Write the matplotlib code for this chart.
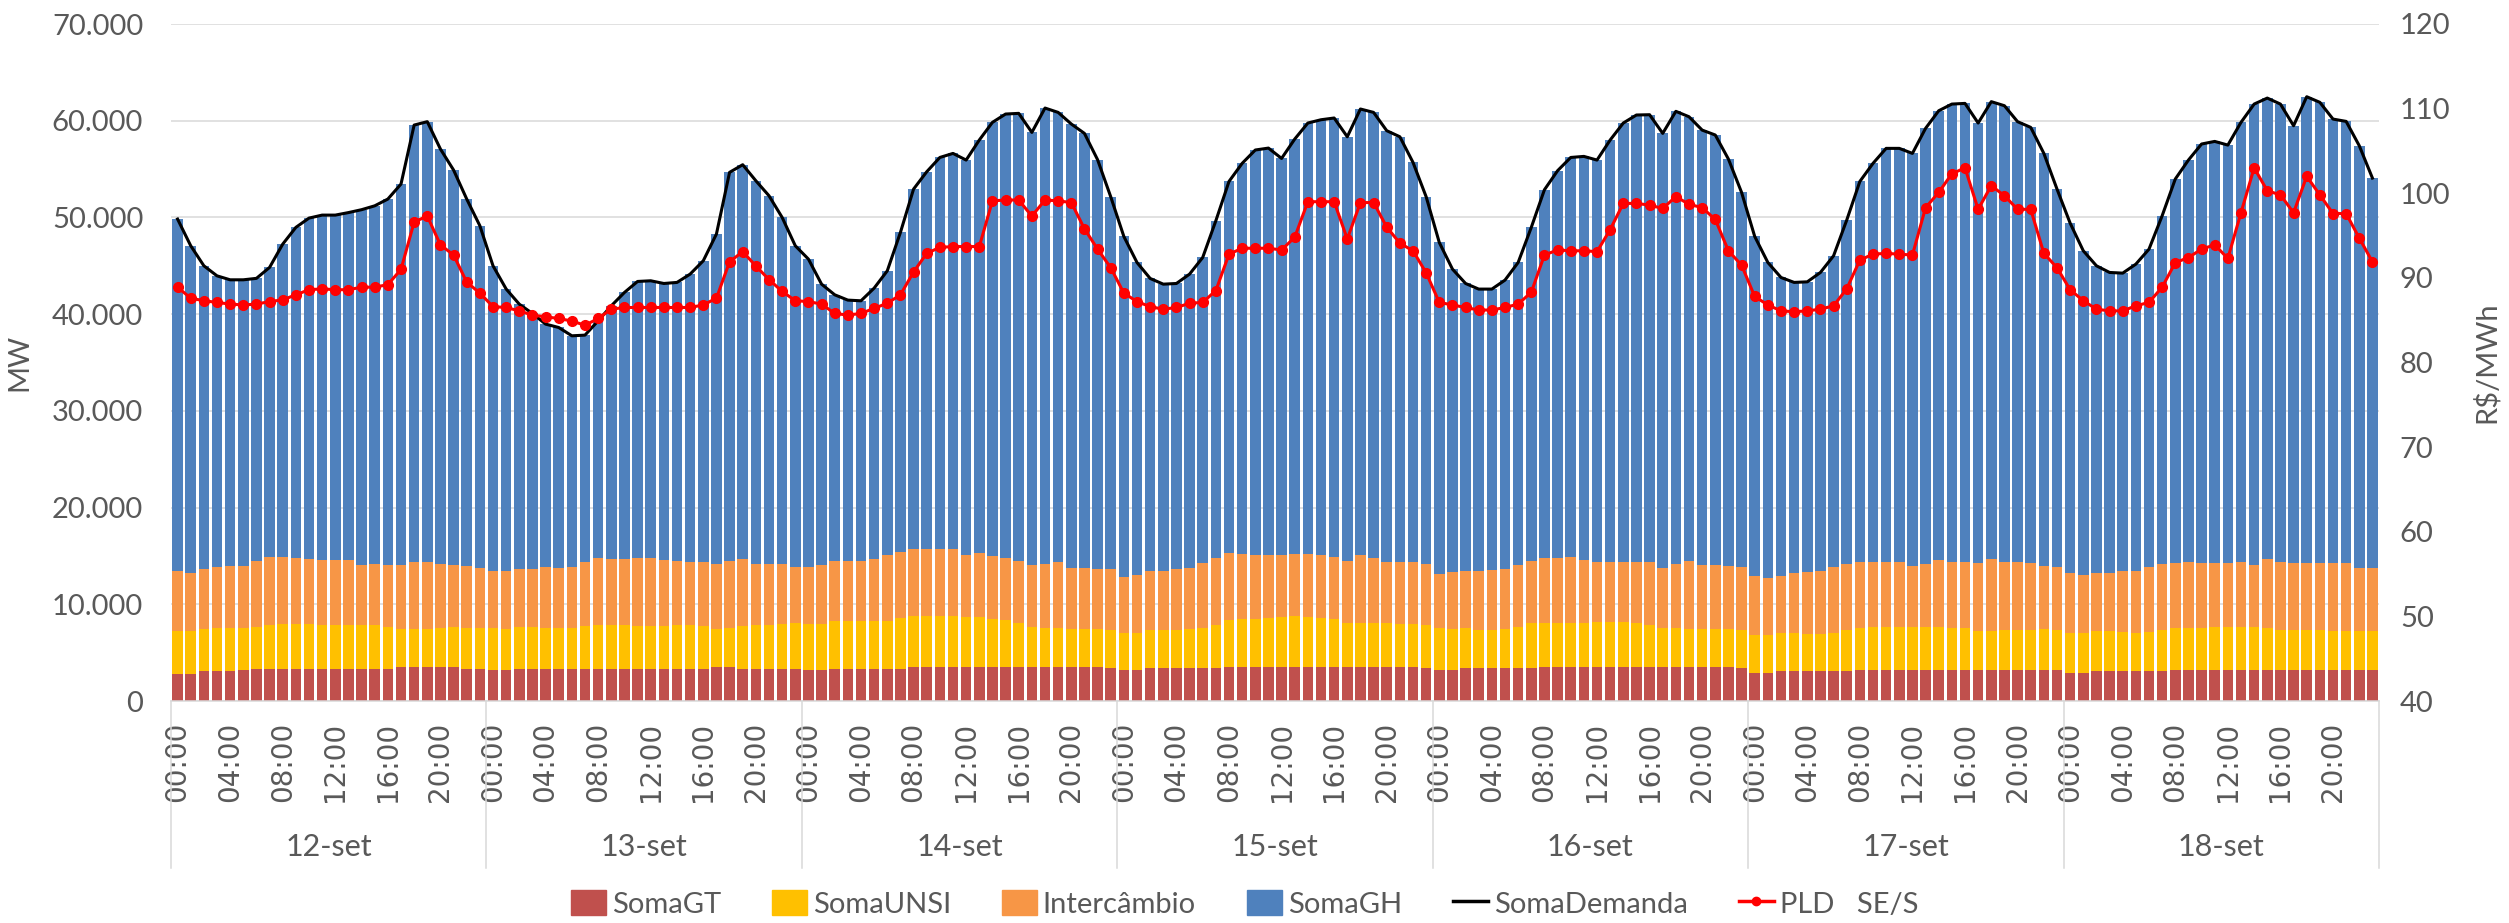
import numpy as np
import matplotlib.pyplot as plt
import matplotlib.transforms as mtransforms
from matplotlib.ticker import FuncFormatter
from matplotlib.lines import Line2D
from matplotlib.patches import Patch

plt.rcParams['font.family'] = ['Lato', 'DejaVu Sans']

# --- dados (MW por hora, 12-set a 18-set) ---
dias = ['12-set', '13-set', '14-set', '15-set', '16-set', '17-set', '18-set']
horas = ['00:00', '04:00', '08:00', '12:00', '16:00', '20:00']

soma_gt = [
    2780, 2780, 3060, 3060, 3130, 3230, 3330, 3330, 3330, 3330, 3330, 3330, 3330, 3330, 3330, 3330, 3330, 3470, 3470, 3470, 3470, 3470, 3330, 3330,
    3160, 3160, 3330, 3330, 3330, 3330, 3330, 3330, 3330, 3330, 3330, 3330, 3330, 3330, 3330, 3330, 3330, 3470, 3470, 3330, 3330, 3330, 3330, 3330,
    3200, 3200, 3330, 3330, 3330, 3330, 3330, 3330, 3500, 3500, 3500, 3500, 3500, 3500, 3500, 3500, 3500, 3500, 3500, 3500, 3500, 3500, 3500, 3370,
    3160, 3160, 3370, 3370, 3370, 3370, 3370, 3370, 3500, 3500, 3500, 3500, 3500, 3500, 3500, 3500, 3500, 3500, 3500, 3500, 3500, 3500, 3500, 3370,
    3160, 3160, 3370, 3370, 3370, 3370, 3370, 3370, 3500, 3500, 3500, 3500, 3500, 3500, 3500, 3500, 3500, 3500, 3500, 3500, 3500, 3500, 3500, 3370,
    2920, 2920, 3100, 3100, 3100, 3100, 3100, 3100, 3200, 3200, 3200, 3200, 3200, 3200, 3200, 3200, 3200, 3200, 3200, 3200, 3200, 3200, 3200, 3200,
    2920, 2920, 3100, 3100, 3100, 3100, 3100, 3100, 3200, 3200, 3200, 3200, 3200, 3200, 3200, 3200, 3200, 3200, 3200, 3200, 3200, 3200, 3200, 3200,
]
soma_unsi = [
    4440, 4440, 4400, 4510, 4440, 4340, 4340, 4550, 4650, 4650, 4650, 4550, 4550, 4550, 4550, 4550, 4340, 3990, 3930, 3990, 4100, 4200, 4240, 4240,
    4410, 4300, 4340, 4340, 4240, 4240, 4240, 4410, 4550, 4550, 4550, 4440, 4440, 4440, 4550, 4550, 4440, 3990, 4100, 4440, 4550, 4550, 4650, 4750,
    4780, 4780, 4990, 4990, 4990, 4990, 4990, 5270, 5300, 5300, 5300, 5300, 5200, 5200, 5000, 4860, 4580, 4170, 4000, 4000, 3900, 3900, 3900, 3960,
    3860, 3860, 3960, 3960, 3960, 4030, 4130, 4470, 4860, 4930, 5030, 5100, 5200, 5300, 5200, 5100, 4930, 4580, 4580, 4580, 4580, 4480, 4480, 4470,
    4340, 4240, 4130, 3960, 3960, 4030, 4300, 4650, 4580, 4580, 4580, 4580, 4690, 4690, 4690, 4580, 4340, 4070, 4000, 3900, 3900, 3900, 3900, 3960,
    3890, 3890, 3920, 3920, 3810, 3810, 3920, 4230, 4370, 4470, 4470, 4470, 4470, 4470, 4470, 4370, 4300, 4020, 4020, 4130, 4130, 4130, 4200, 4130,
    4100, 4100, 4120, 4120, 4020, 3920, 4020, 4230, 4370, 4370, 4370, 4470, 4470, 4470, 4470, 4300, 4130, 4130, 4130, 4130, 4020, 4020, 4020, 4020,
]
intercambio = [
    6200, 5990, 6200, 6290, 6400, 6400, 6810, 7020, 6920, 6810, 6710, 6740, 6740, 6740, 6160, 6260, 6370, 6580, 6940, 6950, 6640, 6370, 6400, 6190,
    5850, 5960, 5990, 5990, 6290, 6190, 6290, 6600, 6910, 6810, 6810, 7020, 7020, 6820, 6640, 6530, 6570, 6680, 6950, 6920, 6330, 6330, 6230, 5780,
    5880, 6060, 6130, 6200, 6200, 6370, 6780, 6780, 6920, 6920, 6920, 6920, 6400, 6570, 6500, 6430, 6440, 6370, 6710, 6910, 6360, 6360, 6260, 6330,
    5780, 6020, 6090, 6150, 6330, 6360, 6740, 6950, 6910, 6740, 6570, 6500, 6400, 6370, 6470, 6500, 6470, 6370, 7020, 6710, 6330, 6360, 6360, 6300,
    5610, 5920, 5980, 6150, 6260, 6260, 6370, 6500, 6710, 6710, 6820, 6540, 6150, 6150, 6150, 6260, 6500, 6190, 6640, 7120, 6640, 6640, 6570, 6530,
    6120, 5920, 5910, 6190, 6410, 6510, 6840, 6810, 6840, 6740, 6740, 6740, 6300, 6470, 6920, 6840, 6910, 7090, 7470, 7080, 7080, 6910, 6570, 6530,
    6190, 6020, 5990, 5990, 6300, 6460, 6740, 6810, 6740, 6840, 6740, 6640, 6640, 6740, 6370, 7190, 7080, 6910, 6980, 6980, 7020, 7020, 6540, 6540,
]
soma_gh = [
    36410, 33860, 31340, 30100, 29580, 29580, 29220, 29930, 32340, 34180, 35240, 35620, 35620, 35880, 36760, 37060, 37860, 39410, 45210, 45490, 42860, 40860, 37930, 35380,
    31580, 29180, 27370, 26410, 25110, 24860, 23900, 23490, 24520, 26170, 27550, 28590, 28660, 28580, 28760, 29730, 31180, 34140, 40140, 40760, 39580, 38030, 35790, 33210,
    31830, 29060, 27550, 26930, 26860, 28000, 29380, 33070, 37210, 39000, 40480, 40900, 40830, 42730, 44830, 45900, 46240, 44750, 47100, 46450, 45900, 44930, 42310, 38480,
    35230, 32300, 30270, 29620, 29510, 30380, 31620, 34870, 38450, 40420, 41870, 42070, 41000, 42930, 44590, 45000, 45380, 43890, 46110, 46070, 44560, 44000, 41350, 38000,
    34300, 31340, 29690, 29110, 29000, 29860, 31300, 34450, 38070, 40040, 41300, 41690, 41590, 43660, 45420, 46250, 46280, 44930, 46830, 45890, 44990, 44480, 42060, 38730,
    35100, 32610, 30860, 30070, 30020, 30890, 32170, 35580, 39310, 41180, 42730, 42730, 42650, 45070, 46440, 47310, 47380, 45450, 47280, 47140, 45490, 45070, 42650, 39070,
    36200, 33510, 31790, 31100, 30820, 31690, 32860, 36030, 39660, 41520, 43280, 43550, 43170, 45420, 47680, 47650, 47310, 45240, 48170, 47590, 45930, 45690, 43650, 40310,
]
soma_demanda = [
    49830, 47070, 45000, 43960, 43550, 43550, 43700, 44830, 47240, 48970, 49930, 50240, 50240, 50500, 50800, 51200, 51900, 53450, 59550, 59900, 57070, 54900, 51900, 49140,
    45000, 42600, 41030, 40070, 38970, 38620, 37760, 37830, 39310, 40860, 42240, 43380, 43450, 43170, 43280, 44140, 45520, 48280, 54660, 55450, 53790, 52240, 50000, 47070,
    45690, 43100, 42000, 41450, 41380, 42690, 44480, 48450, 52930, 54720, 56200, 56620, 55930, 58000, 59830, 60690, 60760, 58790, 61310, 60860, 59660, 58690, 55970, 52140,
    48030, 45340, 43690, 43100, 43170, 44140, 45860, 49660, 53720, 55590, 56970, 57170, 56100, 58100, 59760, 60100, 60280, 58340, 61210, 60860, 58970, 58340, 55690, 52140,
    47410, 44660, 43170, 42590, 42590, 43520, 45340, 48970, 52860, 54830, 56200, 56310, 55930, 58000, 59760, 60590, 60620, 58690, 60970, 60410, 59030, 58520, 56030, 52590,
    48030, 45340, 43790, 43280, 43340, 44310, 46030, 49720, 53720, 55590, 57140, 57140, 56620, 59210, 61030, 61720, 61790, 59760, 61970, 61550, 59900, 59310, 56620, 52930,
    49410, 46550, 45000, 44310, 44240, 45170, 46720, 50170, 53970, 55930, 57590, 57860, 57480, 59830, 61720, 62340, 61720, 59480, 62480, 61900, 60170, 59930, 57410, 54070,
]
# PLD SE/S em R$/MWh
pld_ses = [
    88.9, 87.6, 87.3, 87.1, 86.9, 86.8, 86.9, 87.2, 87.4, 88.0, 88.6, 88.7, 88.6, 88.6, 88.9, 88.9, 89.2, 91.0, 96.6, 97.3, 93.9, 92.7, 89.5, 88.2,
    86.6, 86.5, 86.1, 85.6, 85.4, 85.2, 84.9, 84.4, 85.2, 86.3, 86.5, 86.5, 86.5, 86.5, 86.5, 86.5, 86.8, 87.6, 91.9, 93.1, 91.4, 89.8, 88.4, 87.3,
    87.2, 86.9, 85.8, 85.6, 85.8, 86.4, 87.0, 88.0, 90.7, 92.9, 93.6, 93.7, 93.7, 93.7, 99.1, 99.2, 99.2, 97.3, 99.2, 99.1, 98.9, 95.8, 93.4, 91.2,
    88.2, 87.2, 86.6, 86.3, 86.5, 87.0, 87.1, 88.5, 92.8, 93.5, 93.5, 93.5, 93.3, 94.8, 99.0, 99.0, 99.0, 94.6, 98.9, 98.9, 96.0, 94.1, 93.2, 90.6,
    87.1, 86.8, 86.5, 86.2, 86.2, 86.5, 86.9, 88.3, 92.7, 93.3, 93.2, 93.2, 93.1, 95.7, 98.8, 98.8, 98.6, 98.2, 99.6, 98.7, 98.3, 96.9, 93.2, 91.5,
    87.8, 86.8, 86.1, 86.0, 86.1, 86.3, 86.7, 88.7, 92.1, 92.8, 92.9, 92.8, 92.7, 98.3, 100.1, 102.3, 103.0, 98.1, 100.9, 99.7, 98.1, 98.1, 92.9, 91.2,
    88.6, 87.3, 86.3, 86.1, 86.1, 86.7, 87.1, 88.9, 91.8, 92.4, 93.4, 93.9, 92.3, 97.7, 103.0, 100.3, 99.8, 97.7, 102.0, 99.8, 97.6, 97.6, 94.7, 91.9,
]

cor_gt = '#C0504D'
cor_unsi = '#FFC000'
cor_inter = '#F79646'
cor_gh = '#4F81BD'
cor_txt = '#595959'
cor_grade = '#D9D9D9'

n = len(soma_gt)
x = np.arange(n)

fig = plt.figure(figsize=(25.09, 9.23), dpi=100)
ax = fig.add_axes([171 / 2509, 1 - 701 / 923, (2379 - 171) / 2509, 677 / 923])

larg = 0.8
base = np.zeros(n)
for vals, cor in [(soma_gt, cor_gt), (soma_unsi, cor_unsi), (intercambio, cor_inter), (soma_gh, cor_gh)]:
    ax.bar(x, vals, width=larg, bottom=base, color=cor, linewidth=0)
    base = base + np.array(vals)

ax.plot(x, soma_demanda, color='black', lw=2.2, zorder=4)

ax.set_xlim(-0.5, n - 0.5)
ax.set_ylim(0, 70000)
ax.set_yticks(np.arange(0, 70001, 10000))
ax.yaxis.set_major_formatter(FuncFormatter(lambda v, p: f'{v:,.0f}'.replace(',', '.')))
ax.grid(axis='y', color=cor_grade, lw=1.1)
ax.set_axisbelow(True)
for s in ['top', 'right', 'left']:
    ax.spines[s].set_visible(False)
ax.spines['bottom'].set_color(cor_grade)
ax.spines['bottom'].set_linewidth(1.1)
ax.tick_params(axis='y', length=0, pad=20, labelsize=21, labelcolor=cor_txt)
ax.set_ylabel('MW', fontsize=21, color=cor_txt, labelpad=14)

# eixo de categorias: horas + dias
pos_h = [d * 24 + h for d in range(len(dias)) for h in range(0, 24, 4)]
ax.set_xticks(pos_h)
ax.set_xticklabels(horas * len(dias), rotation=90, family='DejaVu Sans', fontsize=20, color=cor_txt)
ax.tick_params(axis='x', length=0, pad=15)

trans = mtransforms.blended_transform_factory(ax.transData, ax.transAxes)
for d in range(len(dias) + 1):
    ax.plot([d * 24 - 0.5] * 2, [0, -0.247], transform=trans, color=cor_grade, lw=1.1, clip_on=False)
for d, nome in enumerate(dias):
    ax.text(d * 24 + 11.5, -0.215, nome, transform=trans, ha='center', va='center', fontsize=22, color=cor_txt)

# eixo secundário: PLD
ax2 = ax.twinx()
ax2.plot(x, pld_ses, color='#FF0000', lw=2.2, marker='o', ms=7, zorder=5)
ax2.set_ylim(40, 120)
ax2.set_yticks(np.arange(40, 121, 10))
for s in ax2.spines.values():
    s.set_visible(False)
ax2.tick_params(axis='y', length=0, pad=15, labelsize=21, labelcolor=cor_txt)
ax2.set_ylabel('R$/MWh', fontsize=21, color=cor_txt, labelpad=16)

handles = [
    Patch(color=cor_gt), Patch(color=cor_unsi), Patch(color=cor_inter), Patch(color=cor_gh),
    Line2D([], [], color='black', lw=2.5),
    Line2D([], [], color='#FF0000', lw=2.5, marker='o', ms=6),
]
labels = ['SomaGT', 'SomaUNSI', 'Intercâmbio', 'SomaGH', 'SomaDemanda', 'PLD   SE/S']
fig.legend(handles, labels, loc='center', bbox_to_anchor=(0.496, 1 - 904 / 923), ncol=6,
           frameon=False, fontsize=21, labelcolor=cor_txt, handlelength=1.2, handleheight=0.9,
           handletextpad=0.2, columnspacing=1.75)

fig.savefig('out.png', dpi=100)
